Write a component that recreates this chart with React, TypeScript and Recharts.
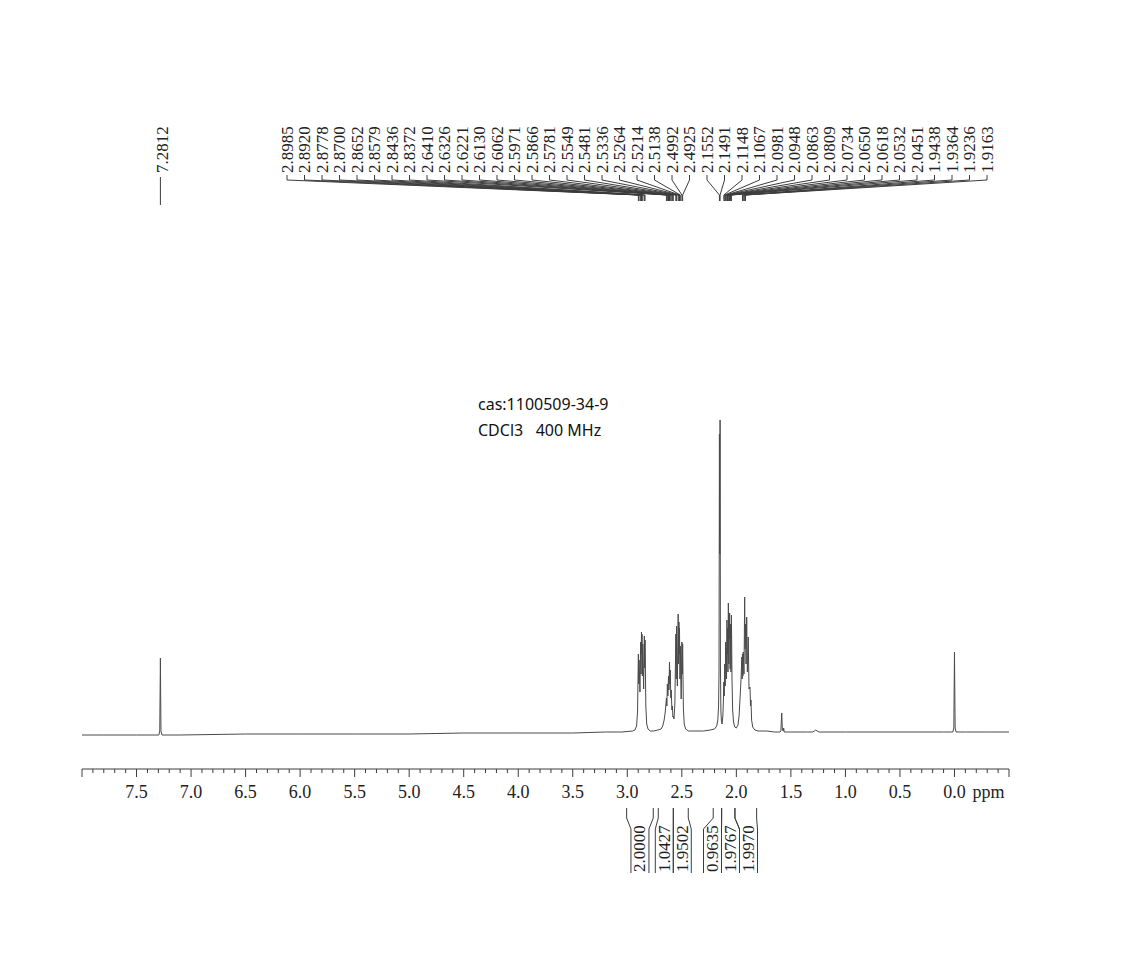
import React from 'react';
import { LineChart, Line, XAxis, YAxis, ReferenceArea } from 'recharts';

type Pt = [number, number];

// 1H NMR trace, [ppm, height]
const baselineLeft: Pt[] = [[8.0, -1], [7.8, -1], [7.5, -1], [7.33, -1]];
const residualCHCl3: Pt[] = [[7.295, -1], [7.287, 3], [7.2812, 76], [7.276, 3], [7.267, -1]];
const baselineMid: Pt[] = [
  [7.1, -1], [6.5, 0], [6.0, 0], [5.5, 0], [5.0, 0], [4.5, 1], [4.0, 1], [3.5, 1], [3.2, 2], [3.05, 2],
];
const multipletA: Pt[] = [
  [2.95, 3], [2.93, 4], [2.915, 8], [2.906, 22], [2.8985, 80], [2.895, 50], [2.892, 74], [2.884, 42],
  [2.8778, 92], [2.874, 60], [2.87, 102], [2.8675, 80], [2.8652, 100], [2.862, 58], [2.8579, 90],
  [2.85, 45], [2.8436, 98], [2.84, 66], [2.8372, 94], [2.83, 28], [2.822, 10], [2.81, 5], [2.79, 3],
];
const gapAB: Pt[] = [[2.76, 3], [2.72, 4], [2.69, 5]];
const multipletB: Pt[] = [
  [2.675, 8], [2.662, 14], [2.652, 22], [2.641, 36], [2.637, 28], [2.6326, 50], [2.628, 38],
  [2.6221, 58], [2.618, 44], [2.613, 72], [2.6095, 50], [2.6062, 64], [2.601, 36], [2.5971, 44],
  [2.591, 24], [2.5866, 28], [2.582, 17], [2.5781, 18], [2.572, 15],
];
const multipletC: Pt[] = [
  [2.564, 30], [2.5549, 100], [2.5515, 55], [2.5481, 108], [2.541, 48], [2.5336, 120], [2.53, 70],
  [2.5264, 112], [2.524, 80], [2.5214, 106], [2.517, 55], [2.5138, 88], [2.506, 35], [2.4992, 92],
  [2.496, 60], [2.4925, 90], [2.486, 26], [2.478, 10], [2.465, 5], [2.44, 3],
];
const gapCD: Pt[] = [[2.38, 3], [2.3, 3], [2.24, 4], [2.2, 5], [2.18, 8]];
const singletD: Pt[] = [
  [2.17, 14], [2.163, 28], [2.159, 60], [2.1552, 300], [2.152, 180], [2.1491, 314], [2.146, 70],
  [2.142, 24], [2.137, 13], [2.131, 10],
];
const multipletE: Pt[] = [
  [2.124, 18], [2.118, 35], [2.1148, 52], [2.111, 38], [2.1067, 70], [2.102, 48], [2.0981, 92],
  [2.0965, 72], [2.0948, 86], [2.09, 55], [2.0863, 114], [2.0835, 80], [2.0809, 106], [2.077, 62],
  [2.0734, 131], [2.069, 70], [2.065, 118], [2.0634, 95], [2.0618, 121], [2.057, 65], [2.0532, 110],
  [2.049, 62], [2.0451, 119], [2.04, 55], [2.034, 24], [2.026, 12], [2.015, 7], [2.0, 6],
];
const multipletF: Pt[] = [
  [1.985, 9], [1.975, 18], [1.966, 36], [1.957, 55], [1.95, 77], [1.947, 55], [1.9438, 80],
  [1.94, 58], [1.9364, 82], [1.93, 60], [1.9236, 137], [1.92, 85], [1.9163, 110], [1.911, 70],
  [1.905, 117], [1.899, 62], [1.891, 97], [1.884, 45], [1.875, 47], [1.87, 28], [1.866, 34],
  [1.86, 14], [1.85, 7], [1.83, 4], [1.8, 3],
];
const baselineHigh: Pt[] = [[1.72, 3], [1.65, 2], [1.6, 2]];
const waterPeak: Pt[] = [[1.592, 3], [1.584, 21], [1.578, 4], [1.57, 3], [1.566, 6], [1.561, 2]];
const baselineLow: Pt[] = [
  [1.5, 2], [1.35, 2], [1.3, 2], [1.285, 3], [1.272, 4], [1.26, 3], [1.24, 2], [1.0, 2], [0.5, 2],
  [0.1, 2], [0.03, 2],
];
const tmsPeak: Pt[] = [[0.015, 2], [0.006, 6], [0.0, 82], [-0.006, 6], [-0.015, 2]];
const baselineRight: Pt[] = [[-0.1, 2], [-0.3, 2], [-0.5, 2]];

// peak picking labels
const isolatedPeaks = ['7.2812'];
const peakListLow = [
  '2.8985', '2.8920', '2.8778', '2.8700', '2.8652', '2.8579', '2.8436', '2.8372', '2.6410', '2.6326',
  '2.6221', '2.6130', '2.6062', '2.5971', '2.5866', '2.5781', '2.5549', '2.5481', '2.5336', '2.5264',
  '2.5214', '2.5138', '2.4992', '2.4925', '2.1552', '2.1491', '2.1148', '2.1067', '2.0981', '2.0948',
  '2.0863', '2.0809', '2.0734', '2.0650', '2.0618', '2.0532', '2.0451', '1.9438', '1.9364', '1.9236',
  '1.9163',
];

// integrals: [from ppm, to ppm]
const integralRanges: Pt[] = [
  [3.006, 2.762], [2.716, 2.578], [2.578, 2.441], [2.212, 2.135], [2.135, 2.013], [2.013, 1.814],
];
const integralValues = ['2.0000', '1.0427', '1.9502', '0.9635', '1.9767', '1.9970'];

const axisLabels = ['7.5', '7.0', '6.5', '6.0', '5.5', '5.0', '4.5', '4.0', '3.5', '3.0', '2.5', '2.0', '1.5', '1.0', '0.5', '0.0'];

const spectrum = [
  ...baselineLeft, ...residualCHCl3, ...baselineMid, ...multipletA, ...gapAB, ...multipletB,
  ...multipletC, ...gapCD, ...singletD, ...multipletE, ...multipletF, ...baselineHigh, ...waterPeak,
  ...baselineLow, ...tmsPeak, ...baselineRight,
]
  .sort((a, b) => b[0] - a[0])
  .map(([ppm, h]) => ({ ppm, h }));

const W = 1137;
const H = 953;
const PLOT_LEFT = 82;
const PLOT_RIGHT = 1009;
const PLOT_TOP = 414;
const AXIS_Y = 769;
const TOP_AXIS_H = 300;
const BOTTOM_AXIS_H = 30;
const INK = '#3c3c3c';
const SERIF = '"Liberation Serif", "Times New Roman", serif';

const allPeakLabels = [...isolatedPeaks, ...peakListLow];
const peakValues = allPeakLabels.map(Number);

const axisTicks: number[] = [];
for (let k = -5; k <= 80; k++) axisTicks.push(k / 10);

// spread integral captions so they don't collide (ppm space)
const LABEL_GAP = 0.165;
function spreadCaptions(ranges: Pt[]): number[] {
  const mids = ranges.map(([a, b]) => (a + b) / 2);
  let clusters = mids.map((m, i) => ({ idx: [i], mean: m }));
  let merged = true;
  while (merged) {
    merged = false;
    for (let j = 0; j < clusters.length - 1; j++) {
      const a = clusters[j];
      const b = clusters[j + 1];
      const aLow = a.mean - ((a.idx.length - 1) * LABEL_GAP) / 2;
      const bHigh = b.mean + ((b.idx.length - 1) * LABEL_GAP) / 2;
      if (aLow - bHigh < LABEL_GAP) {
        const idx = [...a.idx, ...b.idx];
        const mean = idx.reduce((s, i) => s + mids[i], 0) / idx.length;
        clusters = [...clusters.slice(0, j), { idx, mean }, ...clusters.slice(j + 2)];
        merged = true;
        break;
      }
    }
  }
  const out: number[] = [];
  clusters.forEach((c) => {
    c.idx.forEach((i, k) => {
      out[i] = c.mean + ((c.idx.length - 1) / 2 - k) * LABEL_GAP;
    });
  });
  return out;
}
const captionAt = spreadCaptions(integralRanges);

function ScaleTick(props: any) {
  const { x, payload } = props;
  const v = payload.value as number;
  const k = Math.round(v * 10);
  const major = k % 5 === 0;
  const txt = (k / 10).toFixed(1);
  const showLabel = major && axisLabels.includes(txt);
  return (
    <g>
      <line x1={x} y1={AXIS_Y} x2={x} y2={AXIS_Y + (major ? 8 : 4)} stroke={INK} strokeWidth={1} />
      {showLabel && (
        <text x={x} y={AXIS_Y + 29} textAnchor="middle" fontFamily={SERIF} fontSize={18} fill="#222">
          {txt}
        </text>
      )}
      {showLabel && k === 0 && (
        <text x={x + 18} y={AXIS_Y + 29} textAnchor="start" fontFamily={SERIF} fontSize={18} fill="#222">
          ppm
        </text>
      )}
    </g>
  );
}

const LABEL_START = 287;
const LABEL_STEP = 17.5;
const LABEL_BOTTOM = 173;

function PeakTick(props: any) {
  const { x, payload } = props;
  const i = peakValues.indexOf(payload.value);
  if (i < 0) return null;
  const label = allPeakLabels[i];
  if (i < isolatedPeaks.length) {
    const tx = x + 2;
    return (
      <g>
        <line x1={x} y1={177} x2={x} y2={205} stroke={INK} strokeWidth={1} />
        <text x={tx} y={LABEL_BOTTOM} transform={`rotate(-90 ${tx} ${LABEL_BOTTOM})`} textAnchor="start"
          dominantBaseline="central" fontFamily={SERIF} fontSize={17} fill="#222">{label}</text>
      </g>
    );
  }
  const lx = LABEL_START + (i - isolatedPeaks.length) * LABEL_STEP;
  return (
    <g>
      <path d={`M${lx} 175 L${lx} 180 L${x} 195 L${x} 201`} fill="none" stroke={INK} strokeWidth={1} />
      <text x={lx} y={LABEL_BOTTOM} transform={`rotate(-90 ${lx} ${LABEL_BOTTOM})`} textAnchor="start"
        dominantBaseline="central" fontFamily={SERIF} fontSize={17} fill="#222">{label}</text>
    </g>
  );
}

function IntegralMark(props: any) {
  const { x, width, hi, lo, at, value } = props;
  if (x == null || width == null) return null;
  const c = x + ((hi - at) / (hi - lo)) * width;
  const xl = x;
  const xr = x + width;
  const cl = c - 9;
  const cr = c + 9;
  const ty = 872;
  return (
    <g>
      <path d={`M${xl} 808 L${xl} 818 L${cl} 829 L${cl} 873 M${xr} 808 L${xr} 818 L${cr} 829 L${cr} 873`}
        fill="none" stroke={INK} strokeWidth={1} />
      <text x={c} y={ty} transform={`rotate(-90 ${c} ${ty})`} textAnchor="start" dominantBaseline="central"
        fontFamily={SERIF} fontSize={17} fill="#222">{value}</text>
    </g>
  );
}

export default function App() {
  return (
    <div style={{ position: 'absolute', left: 0, top: 0, width: W, height: H, background: '#fff' }}>
      <LineChart
        width={W}
        height={H}
        data={spectrum}
        margin={{ top: PLOT_TOP - TOP_AXIS_H, right: W - PLOT_RIGHT, bottom: H - AXIS_Y - BOTTOM_AXIS_H, left: PLOT_LEFT }}
      >
        <XAxis xAxisId="ppm" dataKey="ppm" type="number" domain={[-0.5, 8]} reversed allowDataOverflow
          ticks={axisTicks} interval={0} tick={(p: any) => <ScaleTick {...p} />} tickLine={false}
          axisLine={{ stroke: INK, strokeWidth: 1 }} height={BOTTOM_AXIS_H} />
        <XAxis xAxisId="peaks" orientation="top" dataKey="ppm" type="number" domain={[-0.5, 8]} reversed
          allowDataOverflow ticks={peakValues} interval={0} tick={(p: any) => <PeakTick {...p} />}
          tickLine={false} axisLine={false} height={TOP_AXIS_H} />
        <YAxis yAxisId="h" hide domain={[-35, 320]} allowDataOverflow />
        <Line xAxisId="ppm" yAxisId="h" dataKey="h" type="linear" stroke="#4a4a4a" strokeWidth={1}
          dot={false} isAnimationActive={false} />
        <Line xAxisId="peaks" yAxisId="h" dataKey="h" type="linear" stroke="none" dot={false}
          isAnimationActive={false} />
        {integralRanges.map(([hi, lo], i) => (
          <ReferenceArea key={i} xAxisId="ppm" yAxisId="h" x1={hi} x2={lo} y1={-35} y2={-34}
            ifOverflow="visible"
            shape={(p: any) => <IntegralMark {...p} hi={hi} lo={lo} at={captionAt[i]} value={integralValues[i]} />} />
        ))}
      </LineChart>
      <div style={{ position: 'absolute', left: 478, top: 394, fontFamily: '"Noto Sans", sans-serif', fontSize: 16, lineHeight: '20px', color: '#111', whiteSpace: 'pre' }}>
        cas:1100509-34-9
      </div>
      <div style={{ position: 'absolute', left: 478, top: 420, fontFamily: '"Noto Sans", sans-serif', fontSize: 16, lineHeight: '20px', color: '#111', whiteSpace: 'pre' }}>
        {'CDCl3   400 MHz'}
      </div>
    </div>
  );
}
